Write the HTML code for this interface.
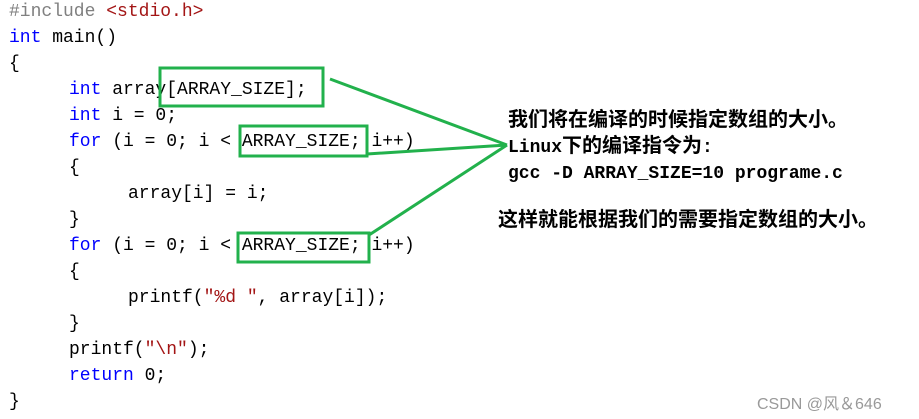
<!DOCTYPE html>
<html><head><meta charset="utf-8"><style>
body{margin:0;width:919px;height:419px;background:#fff;overflow:hidden;position:relative}
.l{position:absolute;font-family:"Liberation Mono",monospace;font-size:18px;line-height:26px;white-space:pre;color:#000}
.k{color:#0000ff}.g{color:#808080}.r{color:#a31515}
.t{position:absolute;font-family:"Liberation Mono","Noto Sans CJK SC",monospace;font-size:18px;font-weight:bold;color:#000;white-space:pre;line-height:26px}
.z{font-size:20px}
</style></head><body>
<div class="l" style="left:9px;top:-1px"><span class="g">#include</span> <span class="r">&lt;stdio.h&gt;</span></div>
<div class="l" style="left:9px;top:25px"><span class="k">int</span> main()</div>
<div class="l" style="left:9px;top:51px">{</div>
<div class="l" style="left:69px;top:77px"><span class="k">int</span> array[ARRAY_SIZE];</div>
<div class="l" style="left:69px;top:103px"><span class="k">int</span> i = 0;</div>
<div class="l" style="left:69px;top:129px"><span class="k">for</span> (i = 0; i &lt; ARRAY_SIZE; i++)</div>
<div class="l" style="left:69px;top:155px">{</div>
<div class="l" style="left:128px;top:181px">array[i] = i;</div>
<div class="l" style="left:69px;top:207px">}</div>
<div class="l" style="left:69px;top:233px"><span class="k">for</span> (i = 0; i &lt; ARRAY_SIZE; i++)</div>
<div class="l" style="left:69px;top:259px">{</div>
<div class="l" style="left:128px;top:285px">printf(<span class="r">"%d "</span>, array[i]);</div>
<div class="l" style="left:69px;top:311px">}</div>
<div class="l" style="left:69px;top:337px">printf(<span class="r">"\n"</span>);</div>
<div class="l" style="left:69px;top:363px"><span class="k">return</span> 0;</div>
<div class="l" style="left:9px;top:389px">}</div>
<svg style="position:absolute;left:0;top:0" width="919" height="419">
<g fill="none" stroke="#22b14c" stroke-width="3">
<rect x="160" y="68" width="163" height="38"/>
<rect x="240" y="126" width="127" height="30"/>
<rect x="238" y="233" width="131" height="29"/>
<path d="M330 79 L507 145 M367 154 L507 145 M369 235 L507 145"/>
</g></svg>
<div class="t" style="left:508px;top:109px"><span class="z">我们将在编译的时候指定数组的大小。</span>
Linux<span class="z">下的编译指令为</span>:
gcc -D ARRAY_SIZE=10 programe.c</div>
<div class="t z" style="left:498px;top:209px">这样就能根据我们的需要指定数组的大小。</div>
<div style="position:absolute;left:757px;top:390px;font-family:'Liberation Sans','Noto Sans CJK SC',sans-serif;font-size:16px;color:#999">CSDN @风＆646</div>
</body></html>
